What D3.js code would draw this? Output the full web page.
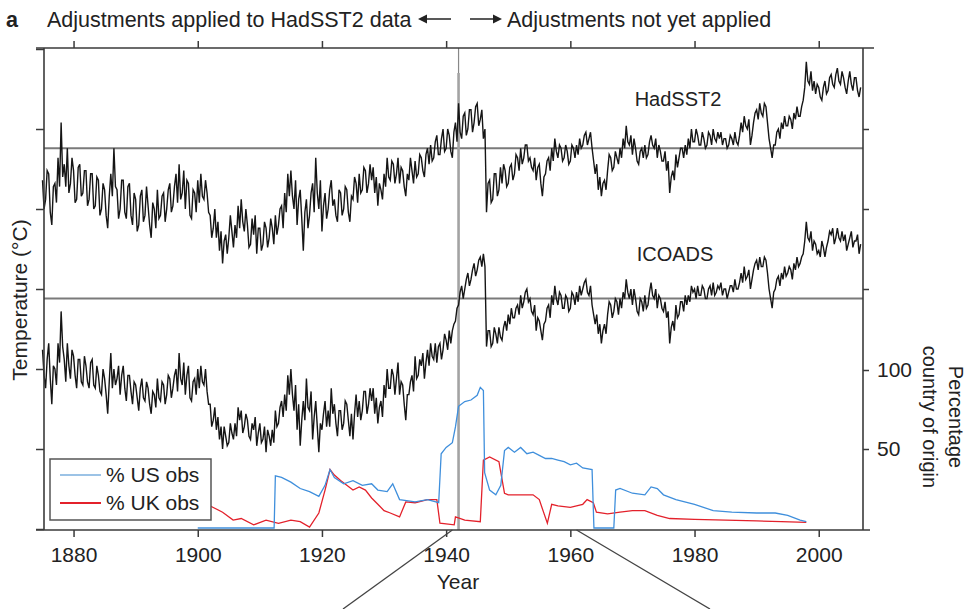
<!DOCTYPE html>
<html>
<head>
<meta charset="utf-8">
<script src="https://cdn.jsdelivr.net/npm/d3@7/dist/d3.min.js"></script>
<style>
  html, body { margin: 0; padding: 0; background: #fff; }
  svg { display: block; }
  text { font-family: "Liberation Sans", Arial, sans-serif; fill: #222; }
</style>
</head>
<body>
<svg id="chart" width="971" height="609"></svg>
<script>
// Quarterly SST anomalies (°C), 1875.00 – 2006.75, each relative to its own baseline
const startYear = 1875;
const step = 0.25;

const hadsst2 = [
  -0.10,-0.19,-0.16,-0.07, -0.08,-0.20,-0.24,-0.12, -0.11,-0.17,-0.03,-0.12, 0.08,-0.09,-0.05,-0.12, 0.00,-0.14,-0.11,-0.03,
  -0.07,-0.17,-0.16,-0.06, -0.05,-0.15,-0.14,-0.07, -0.07,-0.18,-0.16,-0.08, -0.08,-0.19,-0.18,-0.09, -0.10,-0.21,-0.19,-0.11,
  -0.13,-0.21,-0.25,-0.15, -0.08,-0.15,0.00,-0.12, -0.13,-0.22,-0.19,-0.10, -0.10,-0.20,-0.22,-0.12, -0.11,-0.21,-0.24,-0.14,
  -0.16,-0.26,-0.24,-0.15, -0.13,-0.23,-0.21,-0.12, -0.18,-0.24,-0.28,-0.17, -0.19,-0.25,-0.13,-0.22, -0.21,-0.15,-0.14,-0.23,
  -0.19,-0.13,-0.11,-0.20, -0.18,-0.12,-0.08,-0.17, -0.05,-0.16,-0.14,-0.07, -0.19,-0.10,-0.11,-0.21, -0.22,-0.13,-0.14,-0.20,
  // 1900
  -0.10,-0.17,-0.08,-0.15, -0.16,-0.10,-0.14,-0.20, -0.21,-0.28,-0.25,-0.19, -0.28,-0.23,-0.32,-0.26, -0.36,-0.29,-0.27,-0.33,
  -0.28,-0.21,-0.26,-0.31, -0.24,-0.28,-0.18,-0.25, -0.16,-0.23,-0.26,-0.19, -0.24,-0.31,-0.30,-0.22, -0.27,-0.21,-0.33,-0.25,
  -0.25,-0.32,-0.30,-0.23, -0.25,-0.31,-0.28,-0.22, -0.25,-0.30,-0.21,-0.27, -0.24,-0.19,-0.18,-0.25, -0.14,-0.20,-0.08,-0.15,
  -0.07,-0.15,-0.19,-0.10, -0.24,-0.16,-0.13,-0.22, -0.32,-0.20,-0.16,-0.25, -0.21,-0.14,-0.11,-0.20, -0.03,-0.14,-0.19,-0.10,
  // 1920
  -0.26,-0.18,-0.14,-0.22, -0.19,-0.13,-0.10,-0.18, -0.16,-0.21,-0.23,-0.13, -0.14,-0.21,-0.19,-0.12, -0.13,-0.20,-0.23,-0.15,
  -0.16,-0.09,-0.11,-0.17, -0.08,-0.14,-0.13,-0.06, -0.07,-0.14,-0.11,-0.05, -0.10,-0.06,-0.14,-0.09, -0.18,-0.11,-0.13,-0.16,
  -0.08,-0.12,-0.03,-0.09, -0.10,-0.04,-0.05,-0.11, -0.08,-0.03,-0.11,-0.06, -0.07,-0.12,-0.15,-0.08, -0.10,-0.03,-0.07,-0.11,
  -0.04,-0.09,-0.08,-0.02, -0.03,-0.07,-0.09,-0.02, 0.00,-0.05,0.01,-0.04, -0.03,0.02,0.04,-0.02, -0.02,0.03,0.06,-0.01,
  // 1940
  0.00,0.06,0.04,-0.01, -0.03,0.05,0.08,0.02, 0.14,0.05,0.03,0.10, 0.11,0.04,0.06,0.12, 0.12,0.05,0.08,0.13,
  0.14,0.07,0.09,0.12, 0.03,0.06,-0.20,-0.11, -0.10,-0.17,-0.16,-0.08, -0.08,-0.15,-0.13,-0.06, -0.11,-0.05,-0.07,-0.12,
  -0.11,-0.06,-0.05,-0.10, -0.08,-0.02,-0.03,-0.07, 0.00,-0.05,-0.03,0.01, 0.01,-0.04,-0.03,-0.06, -0.07,-0.03,-0.10,-0.06,
  -0.05,-0.11,-0.15,-0.09, -0.08,-0.04,-0.03,-0.07, 0.00,-0.04,0.03,-0.01, -0.03,0.01,0.00,-0.04, -0.03,0.01,-0.01,-0.05,
  // 1960
  -0.04,0.01,0.00,-0.03, 0.01,-0.02,0.03,0.00, 0.01,0.04,0.05,0.01, 0.03,0.05,0.00,-0.04, -0.08,-0.05,-0.13,-0.09,
  -0.15,-0.11,-0.10,-0.13, -0.07,-0.02,-0.03,-0.07, -0.06,-0.01,-0.03,-0.05, 0.00,-0.03,0.03,0.00, 0.07,0.02,0.01,0.04,
  -0.02,0.03,0.00,-0.04, -0.05,-0.01,0.00,-0.03, 0.01,-0.03,-0.02,0.02, 0.04,0.01,0.00,0.03, -0.03,0.01,-0.01,-0.04,
  -0.04,-0.01,-0.07,-0.04, -0.14,-0.09,-0.07,-0.10, -0.02,-0.06,-0.03,0.00, 0.00,-0.03,0.01,-0.02, 0.03,0.00,0.06,0.02,
  // 1980
  0.02,0.06,0.04,0.01, 0.01,0.05,0.03,0.00, 0.01,0.05,0.04,0.01, 0.06,0.03,0.02,0.05, 0.03,0.05,0.01,0.03,
  0.03,0.00,0.01,0.04, 0.03,0.01,0.05,0.02, 0.01,0.04,0.08,0.05, 0.10,0.07,0.06,0.09, 0.01,0.04,0.08,0.11,
  0.12,0.09,0.14,0.11, 0.10,0.14,0.13,0.08, 0.03,0.00,-0.03,0.01, 0.01,0.05,0.06,0.03, 0.08,0.06,0.10,0.07,
  0.07,0.10,0.09,0.06, 0.11,0.09,0.13,0.10, 0.10,0.13,0.15,0.19, 0.27,0.21,0.20,0.24, 0.18,0.21,0.17,0.20,
  // 2000
  0.19,0.16,0.15,0.19, 0.21,0.17,0.18,0.22, 0.23,0.20,0.19,0.23, 0.25,0.21,0.20,0.24, 0.22,0.19,0.17,0.21,
  0.24,0.20,0.18,0.22, 0.22,0.18,0.16,0.19
];

const icoads = [
  -0.16,-0.24,-0.28,-0.19, -0.14,-0.25,-0.33,-0.21, -0.22,-0.27,-0.14,-0.20, -0.04,-0.15,-0.19,-0.26, -0.14,-0.21,-0.25,-0.16,
  -0.18,-0.24,-0.28,-0.19, -0.19,-0.26,-0.27,-0.18, -0.21,-0.26,-0.28,-0.20, -0.19,-0.27,-0.28,-0.21, -0.24,-0.29,-0.30,-0.22,
  -0.25,-0.30,-0.36,-0.26, -0.17,-0.28,-0.22,-0.27, -0.25,-0.21,-0.30,-0.24, -0.21,-0.28,-0.32,-0.24, -0.24,-0.29,-0.33,-0.26,
  -0.27,-0.31,-0.35,-0.28, -0.25,-0.31,-0.32,-0.26, -0.28,-0.33,-0.36,-0.29, -0.30,-0.34,-0.25,-0.31, -0.32,-0.26,-0.27,-0.33,
  -0.30,-0.24,-0.25,-0.31, -0.28,-0.24,-0.22,-0.29, -0.17,-0.25,-0.27,-0.20, -0.30,-0.24,-0.21,-0.31, -0.32,-0.26,-0.25,-0.30,
  // 1900
  -0.22,-0.28,-0.21,-0.26, -0.27,-0.22,-0.29,-0.33, -0.33,-0.40,-0.38,-0.34, -0.41,-0.37,-0.44,-0.40, -0.47,-0.40,-0.43,-0.46,
  -0.45,-0.39,-0.42,-0.44, -0.39,-0.43,-0.34,-0.38, -0.35,-0.42,-0.40,-0.36, -0.38,-0.43,-0.44,-0.39, -0.41,-0.37,-0.46,-0.42,
  -0.39,-0.45,-0.44,-0.40, -0.48,-0.41,-0.43,-0.46, -0.41,-0.45,-0.35,-0.40, -0.39,-0.34,-0.32,-0.37, -0.30,-0.35,-0.24,-0.30,
  -0.22,-0.30,-0.35,-0.27, -0.41,-0.33,-0.46,-0.38, -0.32,-0.38,-0.25,-0.34, -0.35,-0.29,-0.44,-0.37, -0.32,-0.40,-0.48,-0.39,
  // 1920
  -0.41,-0.36,-0.32,-0.40, -0.35,-0.40,-0.28,-0.36, -0.33,-0.39,-0.43,-0.35, -0.35,-0.41,-0.39,-0.32, -0.33,-0.38,-0.43,-0.36,
  -0.44,-0.36,-0.30,-0.37, -0.32,-0.38,-0.35,-0.29, -0.29,-0.36,-0.33,-0.28, -0.32,-0.28,-0.36,-0.31, -0.39,-0.34,-0.32,-0.37,
  -0.27,-0.31,-0.22,-0.28, -0.28,-0.22,-0.24,-0.30, -0.25,-0.20,-0.30,-0.26, -0.27,-0.33,-0.38,-0.30, -0.30,-0.26,-0.24,-0.29,
  -0.18,-0.25,-0.24,-0.19, -0.21,-0.17,-0.25,-0.20, -0.16,-0.21,-0.14,-0.18, -0.19,-0.14,-0.20,-0.15, -0.14,-0.19,-0.16,-0.11,
  // 1940
  -0.13,-0.16,-0.10,-0.14, -0.10,-0.08,-0.07,-0.03, -0.02,0.02,0.04,0.00, 0.03,0.06,0.08,0.04, 0.06,0.09,0.11,0.07,
  0.09,0.12,0.13,0.10, 0.14,0.10,-0.15,-0.10, -0.10,-0.15,-0.14,-0.09, -0.11,-0.14,-0.09,-0.12, -0.13,-0.09,-0.07,-0.10,
  -0.05,-0.08,-0.03,-0.06, -0.06,-0.03,-0.02,-0.05, 0.01,-0.03,-0.01,0.02, 0.03,-0.01,0.00,-0.04, -0.05,-0.02,-0.10,-0.06,
  -0.07,-0.10,-0.13,-0.08, -0.07,-0.03,-0.02,-0.06, 0.01,-0.02,0.04,0.00, -0.02,0.02,0.01,-0.03, -0.03,0.01,0.00,-0.04,
  // 1960
  -0.03,0.02,0.01,-0.02, 0.02,-0.01,0.04,0.01, 0.03,0.05,0.06,0.02, 0.01,0.04,-0.02,-0.05, -0.08,-0.05,-0.11,-0.08,
  -0.14,-0.10,-0.08,-0.11, -0.05,-0.01,-0.02,-0.06, -0.04,0.00,-0.01,-0.05, 0.00,-0.03,0.02,0.00, 0.06,0.02,0.00,0.03,
  -0.02,0.03,0.00,-0.04, -0.05,0.00,-0.01,-0.04, 0.01,-0.03,-0.02,0.02, 0.05,0.01,0.00,0.03, -0.03,0.01,0.00,-0.03,
  -0.04,-0.01,-0.06,-0.04, -0.14,-0.09,-0.07,-0.10, -0.02,-0.06,-0.05,-0.01, -0.01,-0.04,0.01,-0.02, 0.01,-0.01,0.04,0.02,
  // 1980
  0.03,0.00,0.04,0.01, 0.01,0.04,0.03,0.00, 0.00,0.03,0.04,0.01, 0.05,0.01,0.02,0.04, 0.03,0.05,0.01,0.03,
  0.03,0.00,0.02,0.04, 0.04,0.02,0.06,0.03, 0.03,0.05,0.08,0.05, 0.10,0.06,0.07,0.09, 0.03,0.06,0.09,0.11,
  0.12,0.09,0.13,0.10, 0.10,0.13,0.12,0.08, 0.03,0.00,-0.03,0.02, 0.03,0.06,0.07,0.04, 0.08,0.06,0.10,0.07,
  0.08,0.10,0.09,0.06, 0.11,0.09,0.13,0.10, 0.11,0.13,0.14,0.18, 0.24,0.19,0.18,0.21, 0.15,0.18,0.17,0.14,
  // 2000
  0.15,0.13,0.18,0.16, 0.13,0.16,0.18,0.21, 0.20,0.22,0.17,0.19, 0.22,0.19,0.18,0.21, 0.18,0.20,0.15,0.17,
  0.19,0.21,0.16,0.18, 0.18,0.20,0.14,0.17
];

// Vertical offsets (°C) used to stack the two series
const hadOffset = 0.44;
const icoadsOffset = -0.03;

// Share of observations by country of origin (%)
const usYears = [1900, 1912.3, 1912.5, 1913.5, 1915, 1916.5, 1918, 1919.5, 1920.5, 1921.3, 1922, 1923.5, 1925, 1926.5, 1928, 1929, 1930.5, 1931.4, 1932.5, 1935, 1937, 1938.8, 1939.2, 1940, 1941, 1941.5, 1942, 1943, 1944, 1945, 1945.5, 1946.0, 1946.2, 1947, 1948, 1948.8, 1949.4, 1950, 1951, 1952, 1953, 1954, 1955, 1956, 1957, 1958, 1959, 1960, 1961, 1962, 1963.5, 1963.8, 1967, 1967.3, 1968, 1970, 1972, 1973, 1974, 1975, 1977, 1980, 1983, 1986, 1990, 1993, 1995, 1997, 1998];
const usPct = [0, 0, 33, 32, 29, 25, 23, 20, 27, 37, 32, 28, 30, 27, 28, 24, 23, 28, 18, 16.5, 18, 16, 47, 51, 54, 64, 77, 80, 81, 84, 89, 87, 35, 24, 21, 27, 49, 51, 48, 51, 47, 48, 46, 44, 44, 43, 42, 40, 41, 38, 37, 0, 0, 24, 25, 22, 21, 26, 25, 21, 18, 15, 11, 10, 9.5, 9.5, 8, 5, 4];

const ukYears = [1900, 1901, 1902.5, 1904, 1905.7, 1907, 1909, 1911, 1913, 1915, 1916.5, 1918, 1919.5, 1920.5, 1921.3, 1922, 1923, 1924, 1925, 1926, 1927, 1928, 1929, 1930, 1931, 1932.5, 1933.5, 1935, 1937, 1938.5, 1939.0, 1941.3, 1941.5, 1943, 1945.5, 1946.0, 1947, 1948.5, 1949.4, 1950, 1952, 1954, 1955, 1955.6, 1956.3, 1957, 1958, 1960, 1962, 1962.7, 1963.7, 1964.2, 1966, 1968, 1970, 1972, 1974, 1976, 1980, 1985, 1990, 1994, 1998];
const ukPct = [15, 16, 13, 10, 5, 6, 2, 5, 3, 5, 4, 0.6, 9.5, 24, 37, 33.5, 30, 27, 24, 26, 24, 19, 15, 11, 9.5, 7, 16.5, 16, 18, 18, 3, 2, 7, 5, 4, 43, 45, 42, 22, 21, 21, 21, 18, 11, 3, 15, 14, 13, 15, 18, 16, 10, 9, 10, 11, 11, 8, 6, 5.5, 5, 4.5, 4, 3.5];

// Axes
const yearTicks = [1880, 1900, 1920, 1940, 1960, 1980, 2000];
const tempTicks = [-0.75, -0.5, -0.25, 0, 0.25, 0.5, 0.75];
const tempTicksRight = [0, 0.25, 0.5];
const pctTicks = [50, 100];
const splitYear = 1942;
const zoomYears = [1941, 1961];

const svg = d3.select("#chart");

const x = d3.scaleLinear().domain([1875, 2007]).range([42.5, 862.2]);
const yT = d3.scaleLinear().domain([-0.75, 0.75]).range([529, 49]);
const yP = d3.scaleLinear().domain([0, 100]).range([528, 370]);

const plotTop = 48, plotBottom = 530, plotLeft = 44, plotRight = 863;
const axisColor = "#3a3a3a";

// Reference (zero) lines of each series
[hadOffset, icoadsOffset].forEach(v => {
  svg.append("line")
    .attr("x1", plotLeft).attr("x2", plotRight)
    .attr("y1", yT(v)).attr("y2", yT(v))
    .attr("stroke", "#7a7a7a").attr("stroke-width", 2);
});

// Split between adjusted / unadjusted periods
svg.append("line")
  .attr("x1", x(splitYear)).attr("x2", x(splitYear))
  .attr("y1", plotTop).attr("y2", 73)
  .attr("stroke", "#888").attr("stroke-width", 1.2);
svg.append("line")
  .attr("x1", x(splitYear)).attr("x2", x(splitYear))
  .attr("y1", 73).attr("y2", plotBottom)
  .attr("stroke", "#a3a3a3").attr("stroke-width", 2.6);

// Temperature series
const years = hadsst2.map((_, i) => startYear + i * step);
const tLine = offset => d3.line()
  .x((d, i) => x(years[i]))
  .y(d => yT(d + offset));

svg.append("path").datum(hadsst2)
  .attr("d", tLine(hadOffset))
  .attr("fill", "none").attr("stroke", "#151515").attr("stroke-width", 1.4);

svg.append("path").datum(icoads)
  .attr("d", tLine(icoadsOffset))
  .attr("fill", "none").attr("stroke", "#151515").attr("stroke-width", 1.4);

// Country-of-origin series
const pLine = (yrs) => d3.line().x((d, i) => x(yrs[i])).y(d => yP(d));
const usColor = "#3f8fdc", ukColor = "#e3212b";

svg.append("path").datum(ukPct)
  .attr("d", pLine(ukYears))
  .attr("fill", "none").attr("stroke", ukColor).attr("stroke-width", 1.3);

svg.append("path").datum(usPct)
  .attr("d", pLine(usYears))
  .attr("fill", "none").attr("stroke", usColor).attr("stroke-width", 1.3);

// Series labels
svg.append("text").attr("x", 678).attr("y", 106).attr("text-anchor", "middle")
  .attr("font-size", 20).text("HadSST2");
svg.append("text").attr("x", 675).attr("y", 261).attr("text-anchor", "middle")
  .attr("font-size", 20).text("ICOADS");

// Frame lines
svg.append("line").attr("x1", 36).attr("x2", 874).attr("y1", plotTop).attr("y2", plotTop)
  .attr("stroke", axisColor).attr("stroke-width", 1.6);
svg.append("line").attr("x1", 36).attr("x2", 870).attr("y1", plotBottom).attr("y2", plotBottom)
  .attr("stroke", axisColor).attr("stroke-width", 1.6);
svg.append("line").attr("x1", plotLeft).attr("x2", plotLeft).attr("y1", plotTop).attr("y2", plotBottom)
  .attr("stroke", axisColor).attr("stroke-width", 1.6);
svg.append("line").attr("x1", plotRight).attr("x2", plotRight).attr("y1", plotTop).attr("y2", plotBottom)
  .attr("stroke", axisColor).attr("stroke-width", 1.6);

function styleAxis(g) {
  g.select(".domain").remove();
  g.selectAll(".tick line").attr("stroke", axisColor).attr("stroke-width", 1.5);
  g.selectAll(".tick text").attr("fill", "#222")
    .style("font-family", '"Liberation Sans", Arial, sans-serif');
}

svg.append("g").attr("transform", `translate(0,${plotBottom})`)
  .call(d3.axisBottom(x).tickValues(yearTicks).tickFormat(d3.format("d")).tickSize(7).tickPadding(10))
  .call(styleAxis)
  .call(g => g.selectAll(".tick text").attr("font-size", 21));

svg.append("g").attr("transform", `translate(0,${plotTop})`)
  .call(d3.axisTop(x).tickValues(yearTicks).tickFormat("").tickSize(7))
  .call(styleAxis);

svg.append("g").attr("transform", `translate(${plotLeft},0)`)
  .call(d3.axisLeft(yT).tickValues(tempTicks).tickFormat("").tickSize(8))
  .call(styleAxis);

svg.append("g").attr("transform", `translate(${plotRight},0)`)
  .call(d3.axisRight(yT).tickValues(tempTicksRight).tickFormat("").tickSize(6))
  .call(styleAxis);

svg.append("g").attr("transform", `translate(${plotRight},0)`)
  .call(d3.axisRight(yP).tickValues(pctTicks).tickSize(6).tickPadding(8))
  .call(styleAxis)
  .call(g => g.selectAll(".tick text").attr("font-size", 21));

// Axis titles
svg.append("text").attr("x", 458).attr("y", 589).attr("text-anchor", "middle")
  .attr("font-size", 21).text("Year");

svg.append("text").attr("transform", "translate(27,300) rotate(-90)")
  .attr("text-anchor", "middle").attr("font-size", 21).text("Temperature (°C)");

svg.append("text").attr("transform", "translate(949,417) rotate(90)")
  .attr("text-anchor", "middle").attr("font-size", 20).text("Percentage");
svg.append("text").attr("transform", "translate(923,417) rotate(90)")
  .attr("text-anchor", "middle").attr("font-size", 20).text("country of origin");

// Heading
svg.append("text").attr("x", 6).attr("y", 27).attr("font-size", 21.5)
  .attr("font-weight", "bold").text("a");
svg.append("text").attr("x", 47).attr("y", 27).attr("font-size", 21.5)
  .text("Adjustments applied to HadSST2 data");
svg.append("text").attr("x", 507).attr("y", 27).attr("font-size", 21.5)
  .text("Adjustments not yet applied");

// Direction arrows in the heading
function arrow(x1, x2, yy) {
  const dir = Math.sign(x2 - x1);
  svg.append("line").attr("x1", x1).attr("x2", x2 - dir * 6).attr("y1", yy).attr("y2", yy)
    .attr("stroke", "#222").attr("stroke-width", 1.5);
  svg.append("path")
    .attr("d", `M${x2},${yy} L${x2 - dir * 9},${yy - 4.5} L${x2 - dir * 9},${yy + 4.5} Z`)
    .attr("fill", "#222");
}
arrow(451, 418, 19);
arrow(470, 502, 19);

// Guide lines leading to the detail panel below
svg.append("line").attr("x1", x(zoomYears[0])).attr("y1", plotBottom)
  .attr("x2", 343).attr("y2", 609).attr("stroke", "#444").attr("stroke-width", 1.3);
svg.append("line").attr("x1", x(zoomYears[1])).attr("y1", plotBottom)
  .attr("x2", 710).attr("y2", 609).attr("stroke", "#444").attr("stroke-width", 1.3);

// Legend
const lg = svg.append("g").attr("transform", "translate(50,459)");
lg.append("rect").attr("width", 161).attr("height", 61)
  .attr("fill", "#fff").attr("stroke", "#555").attr("stroke-width", 1.5);
const legendItems = [
  { label: "% US obs", color: "#9cc3e6" },
  { label: "% UK obs", color: ukColor }
];
legendItems.forEach((d, i) => {
  const yy = 16 + i * 28;
  lg.append("line").attr("x1", 10).attr("x2", 51).attr("y1", yy).attr("y2", yy)
    .attr("stroke", d.color).attr("stroke-width", 2);
  lg.append("text").attr("x", 56).attr("y", yy).attr("dy", "0.35em")
    .attr("font-size", 21).text(d.label);
});
</script>
</body>
</html>
